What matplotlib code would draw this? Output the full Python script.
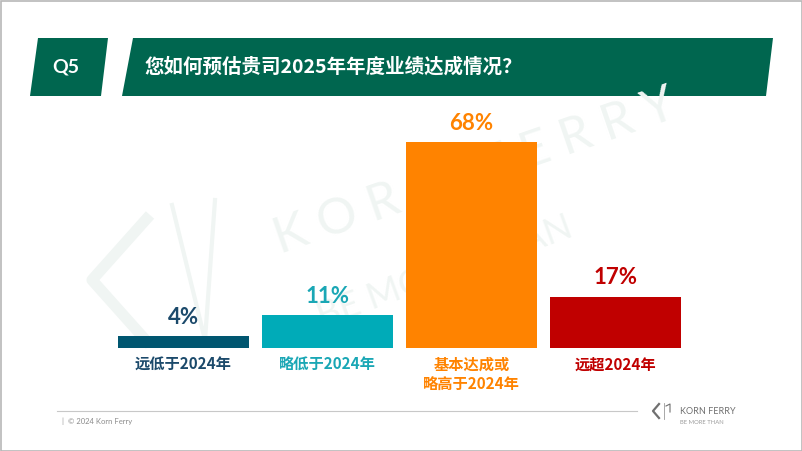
import matplotlib
matplotlib.use("Agg")
import matplotlib.pyplot as plt
from matplotlib.patches import Polygon, Rectangle

# data
categories = ["远低于2024年", "略低于2024年", "基本达成或\n略高于2024年", "远超2024年"]
values = [4, 11, 68, 17]
bar_colors = ["#005670", "#00abb8", "#ff8300", "#c00000"]
text_colors = ["#1c4a6b", "#1aa7b5", "#ff8300", "#c00000"]
question = "Q5"
title = "您如何预估贵司2025年年度业绩达成情况？"
footer = "|  © 2024 Korn Ferry"

CJK = ["Noto Sans CJK SC", "DejaVu Sans"]
LATIN = ["Lato", "DejaVu Sans"]
GREEN = "#00664f"
WATERMARK = "#f0f5f3"

W, H = 802, 451
fig = plt.figure(figsize=(W / 100, H / 100), dpi=100)
fig.patch.set_facecolor("white")

# decoration layer in pixel coordinates
bg = fig.add_axes([0, 0, 1, 1], zorder=0)
bg.set_xlim(0, W)
bg.set_ylim(H, 0)
bg.axis("off")

bg.add_patch(Rectangle((0.5, 0.5), W - 1, H - 1, fill=False, edgecolor="#b8b8b8", linewidth=1.2))

# faint watermark
bg.text(475, 172, "K O R N   F E R R Y", fontsize=36, color=WATERMARK, family=LATIN,
        rotation=19, ha="center", va="center")
bg.text(445, 272, "BE MORE THAN", fontsize=26, color=WATERMARK, family=LATIN,
        rotation=20, ha="center", va="center")
bg.plot([150, 92, 150], [215, 280, 345], color=WATERMARK, linewidth=8, solid_capstyle="butt")
bg.plot([172, 205, 215], [205, 340, 200], color=WATERMARK, linewidth=3)

# header band
bg.add_patch(Polygon([(30, 96), (38, 38), (108, 38), (101, 96)], closed=True,
                     facecolor=GREEN, edgecolor="none"))
bg.add_patch(Polygon([(122, 96), (133, 38), (773, 38), (766, 96)], closed=True,
                     facecolor=GREEN, edgecolor="none"))
bg.text(66, 67, question, color="white", fontsize=14, fontweight="bold",
        family=LATIN, ha="center", va="center")
bg.text(145, 67, title, color="white", fontsize=14, fontweight="bold",
        family=CJK, ha="left", va="center")

# footer
bg.plot([57, 637], [411, 411], color="#c8c8c8", linewidth=0.8)
bg.text(62, 421, footer, color="#8c8c8c", fontsize=5.5, family=LATIN, va="center")
bg.plot([659, 653, 659], [404, 411, 418], color="#707070", linewidth=1.6)
bg.plot([664, 664], [403, 419], color="#9a9a9a", linewidth=0.6)
bg.plot([666, 670, 670], [406, 404, 412], color="#707070", linewidth=0.8)
bg.text(680, 411, "KORN FERRY", color="#707070", fontsize=6.5, family=LATIN, va="center")
bg.text(680, 423, "BE MORE THAN", color="#9a9a9a", fontsize=4.2, family=LATIN, va="center")

# bar chart
left_px, right_px = 111.5, 687.5
base_px, px_per_unit = 348.3, 3.03
ax = fig.add_axes([left_px / W, (H - base_px) / H, (right_px - left_px) / W,
                   100 * px_per_unit / H], zorder=1)
ax.patch.set_alpha(0)
x = range(len(values))
ax.bar(x, values, width=0.91, color=bar_colors)
ax.set_xlim(-0.5, len(values) - 0.5)
ax.set_ylim(0, 100)
ax.axis("off")

for i, v in enumerate(values):
    ax.annotate(f"{v}%", (i, v), xytext=(0, 6), textcoords="offset points",
                ha="center", va="bottom", fontsize=16, fontweight="bold",
                color=text_colors[i], family=LATIN)
    ax.annotate(categories[i], (i, 0), xytext=(0, -6), textcoords="offset points",
                ha="center", va="top", fontsize=11, fontweight="bold",
                color=text_colors[i], family=CJK, linespacing=1.3)

fig.savefig("out.png", dpi=100, facecolor="white")
